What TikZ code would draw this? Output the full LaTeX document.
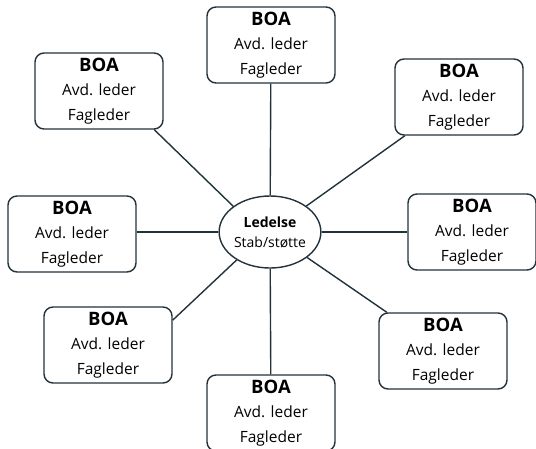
\documentclass[tikz,border=0pt]{standalone}
\usepackage{fontspec}
\setmainfont{Open Sans}
\usetikzlibrary{shapes.geometric}
\definecolor{edge}{HTML}{22323B}
\tikzset{
  boa/.style={draw=edge, line width=1.4pt, rounded corners=9pt, minimum width=128pt, minimum height=76pt, align=center, inner sep=2pt, fill=white, font=\fontsize{15.5}{24.5}\selectfont},
  hub/.style={draw=edge, line width=1.4pt, ellipse, minimum width=94pt, minimum height=72pt, inner sep=0pt, align=center, fill=white, font=\fontsize{14}{20}\selectfont},
  link/.style={draw=edge, line width=1.4pt}
}
\newcommand{\boatext}{{\fontsize{18.5}{24.5}\selectfont\bfseries BOA}\\Avd. leder\\Fagleder}
\begin{document}
\begin{tikzpicture}[x=1pt,y=-1pt]
\useasboundingbox (0,0) rectangle (536,448);
\node[hub] (e) at (270,232) {{\bfseries Ledelse}\\Stab/støtte};
\node[boa] (t) at (271,45) {\boatext};
\node[boa] (tl) at (99,91) {\boatext};
\node[boa] (tr) at (459,97) {\boatext};
\node[boa] (l) at (72,234) {\boatext};
\node[boa] (r) at (472,232) {\boatext};
\node[boa] (bl) at (108,345) {\boatext};
\node[boa] (br) at (443,351) {\boatext};
\node[boa] (b) at (271,413) {\boatext};
\draw[link] (e) -- (t);
\draw[link] (e.145) -- (tl.-35);
\draw[link] (e) -- (tr);
\draw[link] (e.west) -- (l.east |- e.west);
\draw[link] (e.east) -- (r.west |- e.east);
\draw[link] (e.-140) -- (bl.21);
\draw[link] (e) -- (br);
\draw[link] (e) -- (b);
\end{tikzpicture}
\end{document}
